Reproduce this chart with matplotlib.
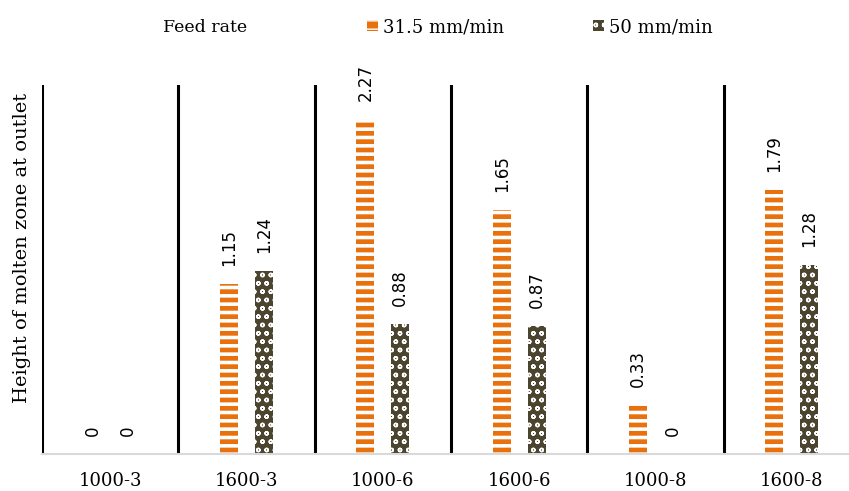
import matplotlib
matplotlib.use('Agg')
import matplotlib.pyplot as plt
import numpy as np
from matplotlib.patches import Patch

# data
categories = ['1000-3', '1600-3', '1000-6', '1600-6', '1000-8', '1600-8']
feed_31 = [0, 1.15, 2.27, 1.65, 0.33, 1.79]
feed_50 = [0, 1.24, 0.88, 0.87, 0, 1.28]
series_names = ['31.5 mm/min', '50 mm/min']

orange = '#E8710E'
dark = '#4B4530'
serif = 'DejaVu Serif'

fig = plt.figure(figsize=(8.49, 4.91), dpi=100)
ax = fig.add_axes([42 / 849, 1 - 454 / 491, 818 / 849, 369 / 491])

x = np.arange(len(categories))
w = 0.132
off = 0.128
with plt.rc_context({'hatch.linewidth': 2.6}):
    b1 = ax.bar(x - off, feed_31, w, color=orange, edgecolor='white', linewidth=0, hatch='--')
    h1 = Patch(facecolor=orange, edgecolor='white', hatch='--', linewidth=0)
with plt.rc_context({'hatch.linewidth': 1.0}):
    b2 = ax.bar(x + off, feed_50, w, color=dark, edgecolor='white', linewidth=0, hatch='oo')
    h2 = Patch(facecolor=dark, edgecolor='white', hatch='oo', linewidth=0)

for bars, vals in ((b1, feed_31), (b2, feed_50)):
    for r, v in zip(bars, vals):
        ax.annotate('{:g}'.format(v) if v else '0',
                    (r.get_x() + r.get_width() / 2, r.get_height()),
                    xytext=(0, 13), textcoords='offset points',
                    rotation=90, ha='center', va='bottom',
                    fontsize=12, family='DejaVu Sans', color='black')

# separators between groups
for i in range(len(categories)):
    ax.axvline(i - 0.5, color='black', lw=2.2, zorder=1)

ax.set_xlim(-0.5, len(categories) - 0.5)
ax.set_ylim(0, 2.5)
ax.set_xticks(x)
ax.set_xticklabels(categories, family=serif, fontsize=13)
ax.set_yticks([])
ax.tick_params(axis='x', length=0, pad=13)
for s in ['top', 'right', 'left']:
    ax.spines[s].set_visible(False)
ax.spines['bottom'].set_color('#d9d9d9')
ax.spines['bottom'].set_linewidth(1.5)

fig.text(22 / 849, 1 - 248 / 491, 'Height of molten zone at outlet', rotation=90,
         ha='center', va='center', family=serif, fontsize=14)

fig.text(163 / 849, 1 - 27 / 491, 'Feed rate', ha='left', va='center',
         family=serif, fontsize=12.5)
fig.legend([h1, h2], series_names, loc='center left', bbox_to_anchor=(367 / 849, 1 - 27 / 491),
           ncol=2, frameon=False, prop={'family': serif, 'size': 13},
           handlelength=0.6, handleheight=0.6, handletextpad=0.3, columnspacing=4.9,
           borderaxespad=0, borderpad=0)

fig.savefig('out.png', dpi=100)
